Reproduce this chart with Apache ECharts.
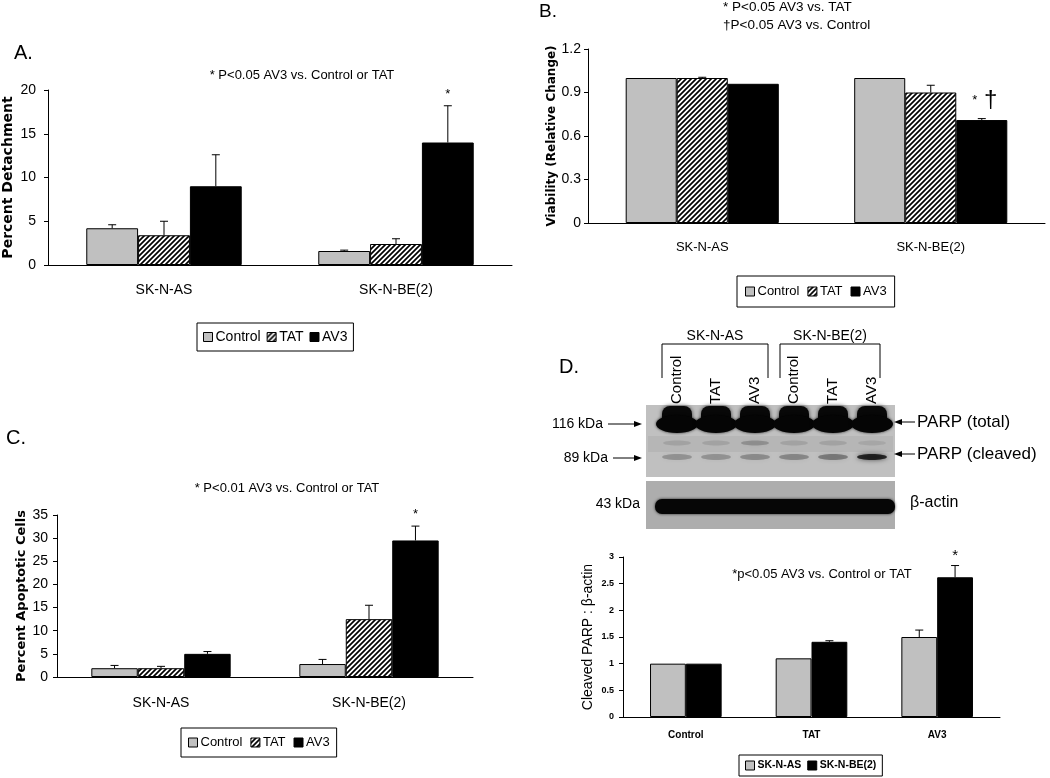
<!DOCTYPE html>
<html><head><meta charset="utf-8">
<script src="https://cdn.jsdelivr.net/npm/echarts@6/dist/echarts.min.js"></script>
<style>html,body{margin:0;padding:0;background:#fff}#c{width:1050px;height:778px}</style>
</head><body><div id="c"></div>
<script>
// ---------- data ----------
const cellLines = ['SK-N-AS', 'SK-N-BE(2)'];
const treatments = ['Control', 'TAT', 'AV3'];
// Panel A: percent detachment
const detachControl = [4.2, 1.6];
const detachControlErr = [4.6, 1.7];
const detachTAT = [3.4, 2.4];
const detachTATErr = [5.0, 3.0];
const detachAV3 = [9.0, 14.0];
const detachAV3Err = [12.6, 18.2];
const detachAV3Sig = ['', '*'];
const detachTicks = {min: 0, max: 20, interval: 5};
// Panel B: viability (relative change)
const viabControl = [1.0, 1.0];
const viabControlErr = [null, null];
const viabTAT = [1.0, 0.9];
const viabTATErr = [1.005, 0.95];
const viabAV3 = [0.96, 0.71];
const viabAV3Err = [null, 0.72];
const viabAV3Sig = ['', '*†'];
const viabTicks = {min: 0, max: 1.2, interval: 0.3};
// Panel C: percent apoptotic cells
const apopControl = [1.9, 2.8];
const apopControlErr = [2.5, 3.8];
const apopTAT = [1.9, 12.5];
const apopTATErr = [2.3, 15.5];
const apopAV3 = [5.0, 29.5];
const apopAV3Err = [5.5, 32.6];
const apopAV3Sig = ['', '*'];
const apopTicks = {min: 0, max: 35, interval: 5};
// Panel D: cleaved PARP : beta-actin
const parpCategories = ['Control', 'TAT', 'AV3'];
const parpAS = [1.0, 1.1, 1.5];
const parpASErr = [null, null, 1.63];
const parpBE = [1.0, 1.41, 2.62];
const parpBEErr = [null, 1.43, 2.84];
const parpBESig = ['', '', '*'];
const parpTicks = {min: 0, max: 3, interval: 0.5};
// Western blot lanes
const laneLabels = ['Control', 'TAT', 'AV3', 'Control', 'TAT', 'AV3'];
const laneGroups = ['SK-N-AS', 'SK-N-BE(2)'];
const cleavedBand = [0.22, 0.22, 0.25, 0.27, 0.33, 0.75];
const upperFaintBand = [0.10, 0.10, 0.20, 0.10, 0.10, 0.08];
const markerLabels = ['116 kDa', '89 kDa', '43 kDa'];
const bandLabels = ['PARP (total)', 'PARP (cleaved)', 'β-actin'];

// ---------- styling ----------
const F = "'Liberation Sans', Arial, sans-serif";
const FN = "'Liberation Sans Narrow', 'Liberation Sans', Arial, sans-serif";
const FB = "'DejaVu Sans', 'Liberation Sans', sans-serif";
const GRAY = '#c0c0c0';

function hatchPattern() {
  const s = 5;
  const c = document.createElement('canvas');
  c.width = s; c.height = s;
  const g = c.getContext('2d');
  g.fillStyle = '#fff'; g.fillRect(0, 0, s, s);
  g.strokeStyle = '#000'; g.lineWidth = 1.7;
  g.beginPath();
  g.moveTo(-1, s + 1); g.lineTo(s + 1, -1);
  g.moveTo(-2, 2); g.lineTo(2, -2);
  g.moveTo(s - 2, s + 2); g.lineTo(s + 2, s - 2);
  g.stroke();
  return c;
}
const HATCH = {image: hatchPattern(), repeat: 'repeat'};

const grids = [
  {left: 48, top: 90, width: 464, height: 175},
  {left: 588, top: 49, width: 457, height: 174},
  {left: 57, top: 515, width: 416, height: 162},
  {left: 623, top: 557, width: 377, height: 160}
];
const gaps = [0.33, 0.33, 0.33, 0.43];

function bar(name, gi, vals, color) {
  return {
    type: 'bar', name: name, xAxisIndex: gi, yAxisIndex: gi, data: vals,
    barGap: 0, barCategoryGap: (gaps[gi] * 100) + '%',
    itemStyle: {color: color, borderColor: '#000', borderWidth: 1},
    silent: true
  };
}

function errBars(gi, idx, n, vals, errs, sigs, sigStyle) {
  const gap = gaps[gi];
  return {
    type: 'custom', xAxisIndex: gi, yAxisIndex: gi, z: 5, silent: true,
    data: vals.map((v, i) => [i, v, errs[i] == null ? v : errs[i]]),
    renderItem: function (params, api) {
      const band = api.size([1, 0])[0];
      const gw = band * (1 - gap);
      const bw = gw / n;
      const base = api.coord([api.value(0), api.value(1)]);
      const x = base[0] - gw / 2 + (idx + 0.5) * bw;
      const top = api.coord([api.value(0), api.value(2)])[1];
      const ch = [];
      const lineStyle = {stroke: '#000', lineWidth: 1};
      if (errs[params.dataIndex] != null) {
        ch.push({type: 'line', shape: {x1: x, y1: base[1], x2: x, y2: top}, style: lineStyle});
        ch.push({type: 'line', shape: {x1: x - 4, y1: top, x2: x + 4, y2: top}, style: lineStyle});
      }
      const s = sigs ? sigs[params.dataIndex] : '';
      if (s) {
        const st = sigStyle || {};
        const style = {fill: '#000', textAlign: 'center', textVerticalAlign: 'bottom'};
        if (s.length > 1) {
          style.text = '{a|' + s.charAt(0) + '}  {b|' + s.slice(1) + '}';
          style.rich = {
            a: {fontSize: 13, fontFamily: F, fill: '#000', verticalAlign: 'middle'},
            b: {fontSize: 24, fontFamily: F, fill: '#000', verticalAlign: 'middle'}
          };
        } else {
          style.text = s;
          style.font = st.font || ('14px ' + F);
        }
        ch.push({type: 'text', x: x + (st.dx || 0), y: top - (st.dy || 8), style: style});
      }
      return {type: 'group', children: ch};
    }
  };
}

function xAx(gi, data, fontSize, margin, bold) {
  return {
    type: 'category', gridIndex: gi, data: data,
    axisLine: {lineStyle: {color: '#000', width: 1}},
    axisTick: {show: false},
    axisLabel: {color: '#000', fontSize: fontSize, fontFamily: F, fontWeight: bold ? 'bold' : 'normal', margin: margin}
  };
}
function yAx(gi, t, name, nameFont, nameSize, nameBold, nameGap, labFont, labSize, labBold, labMargin) {
  return {
    type: 'value', gridIndex: gi, min: t.min, max: t.max, interval: t.interval,
    name: name, nameLocation: 'middle', nameRotate: 90, nameGap: nameGap,
    nameTextStyle: {color: '#000', fontFamily: nameFont, fontSize: nameSize, fontWeight: nameBold ? 'bold' : 'normal'},
    axisLine: {show: true, lineStyle: {color: '#000', width: 1}},
    axisTick: {show: true, length: 4, lineStyle: {color: '#000'}},
    splitLine: {show: false},
    axisLabel: {color: '#000', fontFamily: labFont, fontSize: labSize, fontWeight: labBold ? 'bold' : 'normal', margin: labMargin}
  };
}
function legend(left, top, names, fontSize, gap, pad, bold) {
  return {
    left: left, top: top, data: names, orient: 'horizontal',
    itemWidth: 9, itemHeight: 9, itemGap: gap, padding: pad,
    borderColor: '#000', borderWidth: 1, borderRadius: 0, backgroundColor: '#fff',
    selectedMode: false, icon: 'rect',
    textStyle: {color: '#000', fontSize: fontSize, fontFamily: F, fontWeight: bold ? 'bold' : 'normal', padding: [0, 0, 0, -2]},
    itemStyle: {borderColor: '#000', borderWidth: 1}
  };
}

// ---------- western blot graphics ----------
const blot = [];
const laneX0 = 677, laneStep = 39;
blot.push({type: 'rect', shape: {x: 646, y: 405, width: 249, height: 72}, style: {fill: '#c0c0c0'}});
blot.push({type: 'rect', shape: {x: 648, y: 436, width: 245, height: 16}, style: {fill: 'rgba(0,0,0,0.05)', shadowBlur: 6, shadowColor: 'rgba(0,0,0,0.08)'}});
blot.push({type: 'rect', shape: {x: 646, y: 481, width: 249, height: 48}, style: {fill: '#adadad'}});
laneLabels.forEach((lab, i) => {
  const cx = laneX0 + i * laneStep;
  blot.push({type: 'rect', shape: {x: cx - 15, y: 406, width: 30, height: 20, r: 8},
    style: {fill: '#080808', shadowBlur: 4, shadowColor: 'rgba(0,0,0,0.7)'}});
  blot.push({type: 'ellipse', shape: {cx: cx, cy: 424, rx: 21, ry: 9},
    style: {fill: '#050505', shadowBlur: 3, shadowColor: 'rgba(0,0,0,0.8)'}});
  blot.push({type: 'ellipse', shape: {cx: cx, cy: 443, rx: 14, ry: 2.5},
    style: {fill: 'rgba(0,0,0,' + upperFaintBand[i] + ')', shadowBlur: 5, shadowColor: 'rgba(0,0,0,' + upperFaintBand[i] + ')'}});
  blot.push({type: 'ellipse', shape: {cx: cx, cy: 457, rx: 15, ry: 3},
    style: {fill: 'rgba(0,0,0,' + cleavedBand[i] + ')', shadowBlur: 5, shadowColor: 'rgba(0,0,0,' + cleavedBand[i] + ')'}});
  blot.push({type: 'text', x: cx, y: 404, rotation: Math.PI / 2,
    style: {text: lab, font: '15px ' + F, fill: '#000', textAlign: 'left', textVerticalAlign: 'middle'}});
});
blot.push({type: 'rect', shape: {x: 655, y: 499, width: 240, height: 15, r: 7},
  style: {fill: '#060606', shadowBlur: 3, shadowColor: 'rgba(0,0,0,0.8)'}});
// brackets
const brackets = [[662, 768], [780, 880]];
brackets.forEach((b, i) => {
  blot.push({type: 'polyline', shape: {points: [[b[0], 378], [b[0], 344], [b[1], 344], [b[1], 378]]},
    style: {stroke: '#000', lineWidth: 1, fill: null}});
  blot.push({type: 'text', x: (b[0] + b[1]) / 2, y: 336,
    style: {text: laneGroups[i], font: '14px ' + F, fill: '#000', textAlign: 'center', textVerticalAlign: 'middle'}});
});
// marker labels + arrows
const markY = [424, 458, 504];
markerLabels.forEach((m, i) => {
  const right = i === 2 ? 640 : (i === 0 ? 603 : 608);
  blot.push({type: 'text', x: right, y: markY[i],
    style: {text: m, font: '14px ' + F, fill: '#000', textAlign: 'right', textVerticalAlign: 'middle'}});
  if (i < 2) {
    blot.push({type: 'line', shape: {x1: right + 5, y1: markY[i], x2: 636, y2: markY[i]}, style: {stroke: '#000', lineWidth: 1}});
    blot.push({type: 'polygon', shape: {points: [[642, markY[i]], [634, markY[i] - 3], [634, markY[i] + 3]]}, style: {fill: '#000'}});
  }
});
const bandY = [422, 454, 503];
bandLabels.forEach((m, i) => {
  const left = i === 2 ? 910 : 917;
  blot.push({type: 'text', x: left, y: bandY[i],
    style: {text: m, font: (i === 2 ? '16px ' : '17px ') + F, fill: '#000', textAlign: 'left', textVerticalAlign: 'middle'}});
  if (i < 2) {
    blot.push({type: 'line', shape: {x1: 900, y1: bandY[i], x2: 915, y2: bandY[i]}, style: {stroke: '#000', lineWidth: 1}});
    blot.push({type: 'polygon', shape: {points: [[894, bandY[i]], [902, bandY[i] - 3], [902, bandY[i] + 3]]}, style: {fill: '#000'}});
  }
});

// ---------- panel texts ----------
function txt(x, y, s, font, align) {
  return {type: 'text', x: x, y: y, style: {text: s, font: font, fill: '#000', textAlign: align || 'center', textVerticalAlign: 'middle'}};
}
const texts = [
  txt(14, 53, 'A.', '20px ' + F, 'left'),
  txt(539, 12, 'B.', '19px ' + F, 'left'),
  txt(6, 438, 'C.', '20px ' + F, 'left'),
  txt(559, 367, 'D.', '20px ' + F, 'left'),
  txt(302, 75, '* P<0.05 AV3 vs. Control or TAT', '13px ' + F),
  txt(723, 7, '* P<0.05 AV3 vs. TAT', '13.5px ' + F, 'left'),
  txt(723, 25, '†P<0.05 AV3 vs. Control', '13.5px ' + F, 'left'),
  txt(287, 488, '* P<0.01 AV3 vs. Control or TAT', '13px ' + F),
  txt(822, 574, '*p<0.05 AV3 vs. Control or TAT', '13px ' + F)
];

// ---------- chart ----------
const chart = echarts.init(document.getElementById('c'), null, {renderer: 'canvas'});
chart.setOption({
  animation: false,
  backgroundColor: '#fff',
  grid: grids,
  xAxis: [
    xAx(0, cellLines, 14, 18),
    xAx(1, cellLines, 13, 18),
    xAx(2, cellLines, 14, 19),
    xAx(3, parpCategories, 10, 13, true)
  ],
  yAxis: [
    yAx(0, detachTicks, 'Percent Detachment', FB, 14, true, 33, FN, 14, false, 12),
    yAx(1, viabTicks, 'Viability (Relative Change)', FB, 12, true, 30, FN, 14, false, 7),
    yAx(2, apopTicks, 'Percent Apoptotic Cells', FB, 13, true, 29, FN, 14, false, 9),
    yAx(3, parpTicks, 'Cleaved PARP : β-actin', F, 14, false, 28, F, 9, true, 9)
  ],
  legend: [
    legend(197, 323, treatments, 14, 6, [7, 6], false),
    legend(737, 276, treatments, 13, 8, [9, 8], false),
    legend(181, 728, treatments, 13, 8, [8, 7], false),
    legend(739, 755, ['SK-N-AS', 'SK-N-BE(2)'], 10.5, 6, [5, 6], true)
  ],
  series: [
    bar('Control', 0, detachControl, GRAY), bar('TAT', 0, detachTAT, HATCH), bar('AV3', 0, detachAV3, '#000'),
    errBars(0, 0, 3, detachControl, detachControlErr), errBars(0, 1, 3, detachTAT, detachTATErr),
    errBars(0, 2, 3, detachAV3, detachAV3Err, detachAV3Sig, {dy: 5, font: '13px ' + F}),

    bar('Control', 1, viabControl, GRAY), bar('TAT', 1, viabTAT, HATCH), bar('AV3', 1, viabAV3, '#000'),
    errBars(1, 0, 3, viabControl, viabControlErr), errBars(1, 1, 3, viabTAT, viabTATErr),
    errBars(1, 2, 3, viabAV3, viabAV3Err, viabAV3Sig, {dy: 6, dx: 3}),

    bar('Control', 2, apopControl, GRAY), bar('TAT', 2, apopTAT, HATCH), bar('AV3', 2, apopAV3, '#000'),
    errBars(2, 0, 3, apopControl, apopControlErr), errBars(2, 1, 3, apopTAT, apopTATErr),
    errBars(2, 2, 3, apopAV3, apopAV3Err, apopAV3Sig, {dy: 5, font: '13px ' + F}),

    bar('SK-N-AS', 3, parpAS, GRAY), bar('SK-N-BE(2)', 3, parpBE, '#000'),
    errBars(3, 0, 2, parpAS, parpASErr), errBars(3, 1, 2, parpBE, parpBEErr, parpBESig, {dy: 2, font: '15px ' + F})
  ],
  graphic: blot.concat(texts)
});
</script>
</body></html>
